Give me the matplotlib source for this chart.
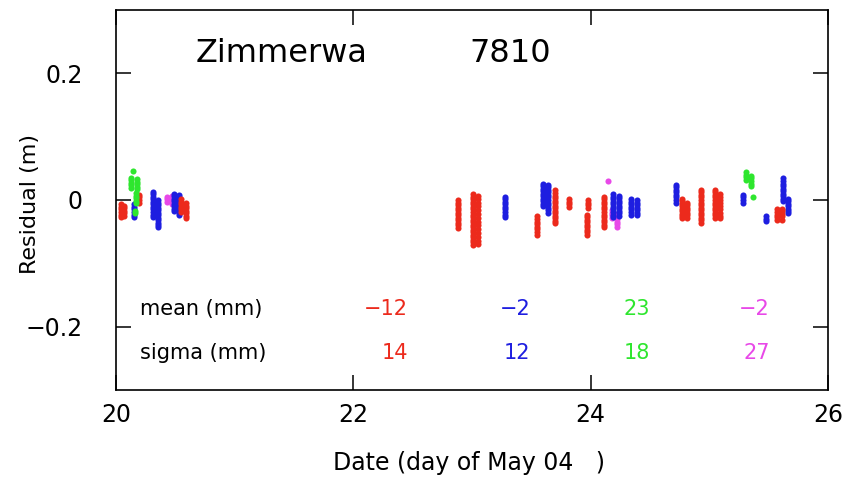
import numpy as np
import matplotlib
matplotlib.use("Agg")
import matplotlib.pyplot as plt

# residuals per pass: (day of May 2004, residuals in mm)
red_passes = [
    (20.04, [-7, -11, -15, -19, -23, -27]),
    (20.07, [-9, -13, -17, -21, -25]),
    (20.19, [8, 4, 0, -4]),
    (20.55, [1, -3, -7, -11, -15, -19]),
    (20.59, [-5, -9, -13, -17, -21, -25, -29]),
    (22.88, [0, -4, -8, -12, -16, -20, -24, -28, -32, -36, -40, -44]),
    (23.01, [9, 5, 1, -3, -7, -11, -15, -19, -23, -27, -31, -35, -39, -43,
             -47, -51, -55, -59, -63, -67, -71]),
    (23.05, [7, 2, -4, -10, -16, -22, -28, -34, -40, -46, -52, -58, -64, -70]),
    (23.55, [-26, -30, -34, -38, -42, -46, -50, -55]),
    (23.70, [15, 11, 7, 3, -1, -5, -9, -13, -17, -21, -25, -29, -33, -37]),
    (23.82, [1, -3, -7, -11]),
    (23.98, [0, -4, -8, -12]),
    (23.97, [-23, -27, -31, -35, -39, -43, -47, -51, -55]),
    (24.11, [5, 1, -3, -7, -11, -15, -19, -23, -27, -31, -35, -39, -43]),
    (24.77, [2, -2, -6, -10, -14, -18, -22, -26, -29]),
    (24.81, [-4, -8, -12, -16, -20, -24, -28]),
    (24.93, [16, 12, 8, 4, 0, -4, -8, -12, -16, -20, -24, -28, -32, -37]),
    (25.05, [16, 12, 8, 4, 0, -4, -8, -12, -16, -20, -24, -28]),
    (25.09, [10, 5, 0, -5, -10, -15, -20, -25, -29]),
    (25.57, [-15, -19, -23, -27, -31]),
    (25.61, [-14, -18, -22, -26, -31]),
]

blue_passes = [
    (20.15, [-7, -11, -15, -19, -23, -27]),
    (20.31, [13, 9, 5, 1, -3, -7, -11, -15, -19, -23, -27]),
    (20.35, [0, -4, -8, -12, -16, -20, -24, -28, -32, -36, -40, -43]),
    (20.49, [10, 6, 2, -2, -6, -10, -14, -18]),
    (20.53, [8, 4, 0, -4, -8, -12, -16, -20, -24]),
    (23.28, [5, 1, -3, -7, -11, -15, -19, -24, -27]),
    (23.60, [26, 22, 18, 14, 10, 6, 2, -2, -6, -10]),
    (23.64, [24, 20, 16, 12, 8, 4, 0, -4, -8, -12, -16, -20]),
    (24.19, [9, 5, 1, -3, -7, -11, -15, -19, -23, -27]),
    (24.24, [7, 3, -1, -5, -9, -13, -17, -21, -25]),
    (24.34, [1, -3, -7, -11, -15, -19, -23]),
    (24.39, [0, -4, -8, -12, -16, -20, -24]),
    (24.72, [24, 20, 16, 12, 8, 4, 0, -4]),
    (25.28, [8, 4, 0, -5]),
    (25.48, [-26, -30, -33]),
    (25.62, [34, 30, 26, 22, 18, 14, 10, 6, 2, -2]),
    (25.66, [2, -2, -6, -10, -14, -18, -20]),
]

green_passes = [
    (20.14, [45]),
    (20.13, [35, 31, 27, 23, 19]),
    (20.18, [33, 29, 25, 21, 17]),
    (20.17, [11, 7, 3, -1, -5]),
    (20.16, [-17, -21]),
    (25.31, [44, 40, 36, 32]),
    (25.35, [38, 34, 30, 26, 22]),
    (25.37, [5]),
]

magenta_passes = [
    (20.43, [5, 1, -3]),
    (20.47, [6, 2, -2, -6]),
    (24.15, [30]),
    (24.18, [-16, -20, -24, -28]),
    (24.22, [-22, -26, -30, -34, -38, -43]),
]

stat_labels = ["mean (mm)", "sigma (mm)"]
mean_mm = ["\u221212", "\u22122", "23", "\u22122"]
sigma_mm = ["14", "12", "18", "27"]
stat_x = [22.46, 23.49, 24.50, 25.51]

c_red = "#ec2a1c"
c_blue = "#1e1ee0"
c_green = "#2ee62e"
c_mag = "#e848e8"


def flatten(passes):
    x, y = [], []
    for day, res in passes:
        x += [day] * len(res)
        y += [r / 1000.0 for r in res]
    return np.array(x), np.array(y)


fig = plt.figure(figsize=(8.65, 4.78), dpi=100)
ax = fig.add_axes([0.1341, 0.1841, 0.8231, 0.795])

for passes, col in [(magenta_passes, c_mag), (blue_passes, c_blue),
                    (red_passes, c_red), (green_passes, c_green)]:
    x, y = flatten(passes)
    ax.plot(x, y, "o", color=col, ms=4.4, mew=0)

ax.set_xlim(20, 26)
ax.set_ylim(-0.3, 0.3)
ax.set_xticks([20, 22, 24, 26])
ax.set_yticks([-0.2, 0, 0.2])
ax.set_yticklabels(["\u22120.2", "0", "0.2"])
ax.tick_params(direction="in", length=11, width=1.1, top=True, right=True,
               labelsize=17)
ax.tick_params(axis="y", pad=24)
ax.tick_params(axis="x", pad=9)
for s in ax.spines.values():
    s.set_linewidth(1.2)

ax.set_xlabel("Date (day of May 04   )", fontsize=17)
ax.set_ylabel("Residual (m)", fontsize=16)
ax.xaxis.set_label_coords(0.496, -0.16)
ax.yaxis.set_label_coords(-0.107, 0.49)

ax.text(20.67, 0.232, "Zimmerwa", fontsize=23, va="center")
ax.text(22.98, 0.232, "7810", fontsize=23, va="center")

ax.text(20.2, -0.172, stat_labels[0], fontsize=15, va="center")
ax.text(20.2, -0.242, stat_labels[1], fontsize=15, va="center")
for xs, m, sg, col in zip(stat_x, mean_mm, sigma_mm,
                          [c_red, c_blue, c_green, c_mag]):
    ax.text(xs, -0.172, m, fontsize=15, va="center", ha="right", color=col)
    ax.text(xs, -0.242, sg, fontsize=15, va="center", ha="right", color=col)

fig.savefig("out.png", dpi=100)
